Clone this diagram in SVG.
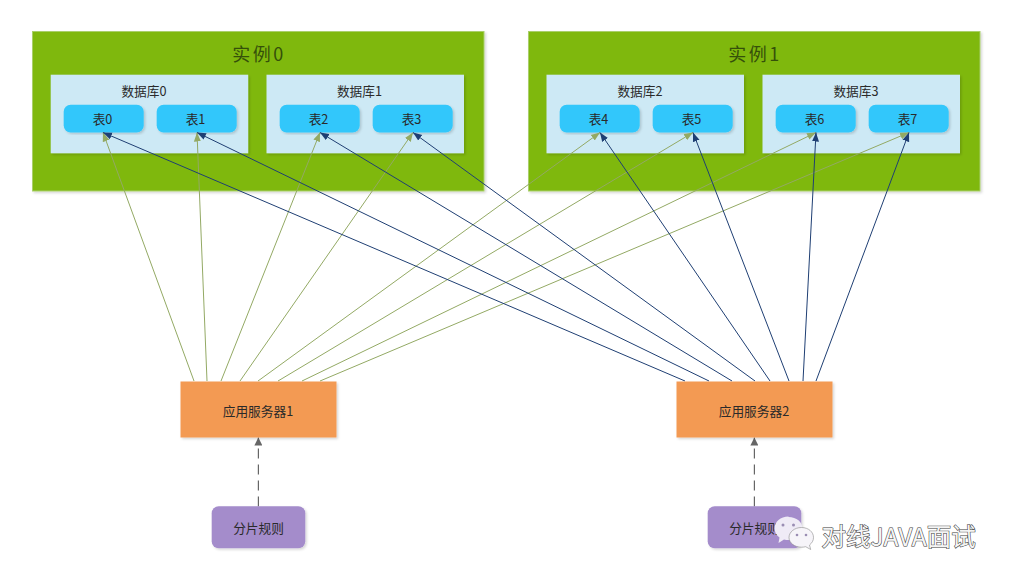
<svg xmlns="http://www.w3.org/2000/svg" width="1010" height="580" viewBox="0 0 1010 580">
  <style>
    text { font-family: "Noto Sans CJK SC", "Liberation Sans", sans-serif; text-anchor: middle; dominant-baseline: central; fill: #2a2a2a; font-size: 12.700px; }
    .instance { fill: #7fb80e; stroke: #a9cf6a; stroke-width: 1; filter: url(#shade); }
    .db { fill: #cde9f5; filter: url(#shade); }
    .table { fill: #30c7fb; filter: url(#shade); }
    .server { fill: #f39a53; filter: url(#shade); }
    .rule { fill: #a48ccb; filter: url(#shade); }
    .title { font-size: 18px; letter-spacing: 2.500px; fill: #35500a; }
    .green { stroke: #93a964; stroke-width: 1; fill: none; marker-end: url(#headGreen); }
    .blue { stroke: #1f3f73; stroke-width: 1; fill: none; marker-end: url(#headBlue); }
    .dash { stroke: #666; stroke-width: 1.200; stroke-dasharray: 10 6; fill: none; marker-end: url(#headGrey); }
    .brand { font-size: 24.500px; fill: #f4f4f4; stroke: #3c3c3c; stroke-width: 1.100px; paint-order: stroke; text-anchor: start; }
    .bubble { fill: #efebf6; }
    .bubble-front { fill: #f6f4f9; stroke: #8a8a8a; stroke-width: 0.600; }
    .eye { fill: #9a8db3; }
  </style>
  <defs>
    <filter id="shade" x="-5%" y="-5%" width="112%" height="112%">
      <feDropShadow dx="1.500" dy="1.500" stdDeviation="1" flood-color="#000" flood-opacity="0.160"/>
    </filter>
    <marker id="headGreen" markerUnits="userSpaceOnUse" markerWidth="10" markerHeight="8" refX="9" refY="4" orient="auto">
      <path d="M0 0.500L9 4L0 7.500z" fill="#93a964"/>
    </marker>
    <marker id="headBlue" markerUnits="userSpaceOnUse" markerWidth="10" markerHeight="8" refX="9" refY="4" orient="auto">
      <path d="M0 0.500L9 4L0 7.500z" fill="#1f3f73"/>
    </marker>
    <marker id="headGrey" markerUnits="userSpaceOnUse" markerWidth="10" markerHeight="8" refX="8" refY="4" orient="auto">
      <path d="M0 0L8 4L0 8z" fill="#666"/>
    </marker>
  </defs>

  <rect width="1010" height="580" fill="#fff"/>

  <g id="instance0">
    <rect class="instance" x="32.500" y="31.500" width="451.500" height="159.500"/>
    <text class="title" x="259" y="53">实例0</text>
  </g>
  <g id="instance1">
    <rect class="instance" x="528.500" y="31.500" width="451.500" height="159.500"/>
    <text class="title" x="755" y="53">实例1</text>
  </g>

  <g id="db0">
    <rect class="db" x="50.700" y="74.700" width="197.500" height="78.600"/>
    <text x="144" y="90.500">数据库0</text>
  </g>
  <g id="db1">
    <rect class="db" x="266.500" y="74.700" width="197.500" height="78.600"/>
    <text x="359.500" y="90">数据库1</text>
  </g>
  <g id="db2">
    <rect class="db" x="546.500" y="74.700" width="197.500" height="78.600"/>
    <text x="640" y="90.500">数据库2</text>
  </g>
  <g id="db3">
    <rect class="db" x="762.500" y="74.700" width="197.500" height="78.600"/>
    <text x="856" y="90">数据库3</text>
  </g>

  <g id="table0"><rect class="table" x="63.700" y="104.700" width="80" height="27.800" rx="7"/><text x="102.500" y="118.500">表0</text></g>
  <g id="table1"><rect class="table" x="156.700" y="104.700" width="80" height="27.800" rx="7"/><text x="195.500" y="118.500">表1</text></g>
  <g id="table2"><rect class="table" x="279.700" y="104.700" width="80" height="27.800" rx="7"/><text x="318.500" y="118.500">表2</text></g>
  <g id="table3"><rect class="table" x="372.700" y="104.700" width="80" height="27.800" rx="7"/><text x="411.500" y="118.500">表3</text></g>
  <g id="table4"><rect class="table" x="559.700" y="104.700" width="80" height="27.800" rx="7"/><text x="598.500" y="118.500">表4</text></g>
  <g id="table5"><rect class="table" x="652.700" y="104.700" width="80" height="27.800" rx="7"/><text x="691.500" y="118.500">表5</text></g>
  <g id="table6"><rect class="table" x="775.700" y="104.700" width="80" height="27.800" rx="7"/><text x="814.500" y="118.500">表6</text></g>
  <g id="table7"><rect class="table" x="868.700" y="104.700" width="80" height="27.800" rx="7"/><text x="907.500" y="118.500">表7</text></g>

  <g id="connectors">
    <line class="green" x1="194" y1="381" x2="103" y2="132.500"/>
    <line class="green" x1="207" y1="381" x2="197" y2="132.500"/>
    <line class="green" x1="221" y1="381" x2="320" y2="132.500"/>
    <line class="green" x1="240" y1="381" x2="413" y2="132.500"/>
    <line class="green" x1="258" y1="381" x2="600" y2="132.500"/>
    <line class="green" x1="278" y1="381" x2="693" y2="132.500"/>
    <line class="green" x1="302" y1="381" x2="816" y2="132.500"/>
    <line class="green" x1="320" y1="381" x2="909" y2="132.500"/>
    <line class="blue" x1="685" y1="381" x2="103" y2="132.500"/>
    <line class="blue" x1="709" y1="381" x2="197" y2="132.500"/>
    <line class="blue" x1="732" y1="381" x2="320" y2="132.500"/>
    <line class="blue" x1="755" y1="381" x2="413" y2="132.500"/>
    <line class="blue" x1="770" y1="381" x2="600" y2="132.500"/>
    <line class="blue" x1="789" y1="381" x2="693" y2="132.500"/>
    <line class="blue" x1="803" y1="381" x2="816" y2="132.500"/>
    <line class="blue" x1="816" y1="381" x2="909" y2="132.500"/>
    <line class="dash" x1="258.400" y1="506.500" x2="258.400" y2="437.500"/>
    <line class="dash" x1="754.400" y1="506.500" x2="754.400" y2="437.500"/>
  </g>

  <g id="server1">
    <rect class="server" x="180.500" y="381.500" width="156" height="56"/>
    <text x="258" y="410">应用服务器1</text>
  </g>
  <g id="server2">
    <rect class="server" x="676.500" y="381.500" width="156" height="56"/>
    <text x="754" y="410">应用服务器2</text>
  </g>

  <g id="rule1">
    <rect class="rule" x="211.700" y="506.300" width="93.600" height="42" rx="7"/>
    <text x="258.500" y="527.500">分片规则</text>
  </g>
  <g id="rule2">
    <rect class="rule" x="707.700" y="506.300" width="93.600" height="42" rx="7"/>
    <text x="754.500" y="527.500">分片规则</text>
  </g>

  <!-- Account badge in the lower right corner -->
  <g id="badge">
    <path class="bubble" d="M788.500 517c8 0 14 5 14 11.500c0 6-6 11.500-14 11.500c-1.500 0-3 0-4.500-.5l-5.500 3.500l1-5.500c-3-2-5-5.500-5-9c0-6.500 6-12 14-12z"/>
    <circle class="eye" cx="783" cy="525" r="1.500"/>
    <circle class="eye" cx="793.500" cy="525" r="1.500"/>
    <path class="bubble-front" d="M801.500 527.500c7 0 12 4.500 12 10c0 3-1.500 5.500-4 7.500l1.200 4.500l-5-2.800c-1.300.3-2.800.5-4.200.5c-7 0-12.500-4.300-12.500-9.700c0-5.500 5.500-10 12.500-10z"/>
    <circle class="eye" cx="797" cy="535" r="1.300"/>
    <circle class="eye" cx="806" cy="535" r="1.300"/>
    <text class="brand" x="821.500" y="535.500">对线JAVA面试</text>
  </g>
</svg>
